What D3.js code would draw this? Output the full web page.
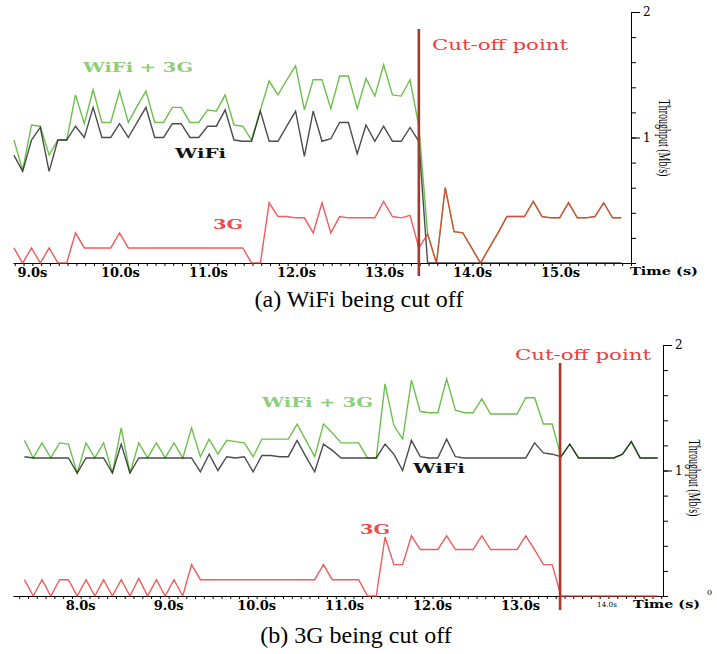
<!DOCTYPE html>
<html>
<head>
<meta charset="utf-8">
<script src="https://cdn.jsdelivr.net/npm/d3@7"></script>
<style>
  body { margin: 0; background: #fff; }
  svg text { font-family: "DejaVu Serif", serif; }
</style>
</head>
<body>
<div id="chart-area"></div>
<script>
// (a) WiFi being cut off -- throughput in Mb/s, one sample every 0.1 s
let wifiA = [0.86, 0.73, 0.98, 1.08, 0.73, 0.98, 0.98, 1.09, 1.00, 1.24,
             1.00, 1.00, 1.11, 1.00, 1.12, 1.24, 1.00, 1.00, 1.11, 1.11,
             1.00, 1.00, 1.09, 1.09, 1.22, 0.98, 0.97, 0.97, 1.21, 0.97,
             0.97, 1.09, 1.21, 0.85, 1.21, 0.97, 0.99, 1.12, 1.12, 0.87,
             1.10, 0.97, 1.09, 0.97, 0.97, 1.08, 0.97, 0, 0, 0,
             0, 0, 0, 0, 0, 0, 0, 0, 0, 0,
             0, 0, 0, 0, 0, 0, 0, 0, 0, 0]
let cellA = [0.12, 0, 0.12, 0, 0.12, 0, 0, 0.24, 0.12, 0.12,
             0.12, 0.12, 0.24, 0.12, 0.12, 0.12, 0.12, 0.12, 0.12, 0.12,
             0.12, 0.12, 0.12, 0.12, 0.12, 0.12, 0.12, 0, 0, 0.48,
             0.37, 0.37, 0.36, 0.36, 0.24, 0.48, 0.24, 0.37, 0.36, 0.36,
             0.36, 0.36, 0.49, 0.37, 0.36, 0.38, 0.12, 0.23, 0, 0.60,
             0.25, 0.24, 0.12, 0, 0.12, 0.24, 0.37, 0.37, 0.37, 0.49,
             0.37, 0.36, 0.36, 0.48, 0.36, 0.36, 0.37, 0.48, 0.36, 0.36]
let bothA = [0.98, 0.74, 1.10, 1.09, 0.86, 0.98, 0.98, 1.34, 1.11, 1.38,
             1.12, 1.12, 1.37, 1.12, 1.25, 1.37, 1.12, 1.12, 1.24, 1.24,
             1.12, 1.12, 1.22, 1.21, 1.34, 1.10, 1.09, 0.98, 1.22, 1.45,
             1.34, 1.46, 1.57, 1.22, 1.46, 1.46, 1.23, 1.49, 1.49, 1.23,
             1.47, 1.33, 1.58, 1.34, 1.33, 1.46, 1.09, 0.23, 0, 0.60,
             0.25, 0.24, 0.12, 0, 0.12, 0.24, 0.37, 0.37, 0.37, 0.49,
             0.37, 0.36, 0.36, 0.48, 0.36, 0.36, 0.37, 0.48, 0.36, 0.36]

// (b) 3G being cut off
let wifiB = [1.11, 1.10, 1.10, 1.10, 1.10, 1.10, 0.98, 1.10, 1.10, 1.10,
             0.98, 1.21, 0.98, 1.10, 1.10, 1.10, 1.10, 1.10, 1.10, 1.10,
             0.99, 1.13, 1.00, 1.11, 1.10, 1.11, 0.99, 1.12, 1.12, 1.11,
             1.11, 1.24, 1.11, 0.99, 1.21, 1.16, 1.10, 1.10, 1.10, 1.10,
             1.10, 1.21, 1.13, 1.00, 1.24, 1.11, 1.10, 1.10, 1.25, 1.11,
             1.10, 1.10, 1.10, 1.10, 1.10, 1.10, 1.10, 1.10, 1.22, 1.14,
             1.13, 1.11, 1.21, 1.10, 1.10, 1.10, 1.10, 1.10, 1.13, 1.23,
             1.10, 1.10, 1.10]
let cellB = [0.13, 0, 0.13, 0, 0.13, 0.13, 0, 0.13, 0, 0.13,
             0, 0.13, 0, 0.14, 0, 0.13, 0, 0.13, 0, 0.25,
             0.13, 0.13, 0.13, 0.13, 0.13, 0.13, 0.13, 0.13, 0.13, 0.13,
             0.13, 0.13, 0.13, 0.13, 0.25, 0.13, 0.13, 0.13, 0.13, 0,
             0, 0.47, 0.25, 0.25, 0.48, 0.37, 0.37, 0.37, 0.48, 0.37,
             0.37, 0.37, 0.48, 0.37, 0.37, 0.37, 0.37, 0.48, 0.37, 0.25,
             0.25, 0, 0, 0, 0, 0, 0, 0, 0, 0,
             0, 0, 0]
let bothB = [1.24, 1.10, 1.22, 1.10, 1.22, 1.21, 0.98, 1.22, 1.10, 1.22,
             0.98, 1.34, 0.98, 1.22, 1.10, 1.22, 1.10, 1.22, 1.10, 1.34,
             1.11, 1.25, 1.13, 1.24, 1.23, 1.22, 1.11, 1.25, 1.25, 1.25,
             1.25, 1.37, 1.24, 1.11, 1.37, 1.30, 1.22, 1.22, 1.22, 1.10,
             1.10, 1.69, 1.36, 1.25, 1.72, 1.47, 1.46, 1.46, 1.73, 1.48,
             1.46, 1.46, 1.57, 1.45, 1.45, 1.45, 1.45, 1.58, 1.58, 1.37,
             1.37, 1.11, 1.21, 1.10, 1.10, 1.10, 1.10, 1.10, 1.13, 1.23,
             1.10, 1.10, 1.10]

// sampling and annotations
let startA = 8.79, startB = 7.36, sampleStep = 0.1
let cutA = 13.39, cutB = 13.45
let timeLabelsA = [9, 10, 11, 12, 13, 14, 15]
let timeLabelsB = [8, 9, 10, 11, 12, 13]
let yLabels = [1, 2]
let yMinor = [0, 0.2, 0.4, 0.6, 0.8, 1, 1.2, 1.4, 1.6, 1.8, 2]

let svg = d3.select("#chart-area").append("svg")
  .attr("width", 717)
  .attr("height", 654)

// text helper: the figure is stretched sideways, textLength mimics that
function addText(str, x, y, o) {
  let t = svg.append("text")
    .attr("x", x)
    .attr("y", y)
    .attr("font-size", o.size + "px")
    .attr("font-weight", o.bold ? "bold" : "normal")
    .attr("fill", o.fill || "#000")
    .text(str)
  if (o.width) t.attr("textLength", o.width).attr("lengthAdjust", "spacingAndGlyphs")
  if (o.anchor) t.attr("text-anchor", o.anchor)
  if (o.family) t.style("font-family", o.family)
  return t
}

function drawPanel(p) {
  let x = d3.scaleLinear().domain(p.timeDomain).range([p.left, p.right])
  let y = d3.scaleLinear().domain([0, 2]).range([p.bottom, p.top])
  let times = p.wifi.map((d, i) => p.start + i * sampleStep)

  // x axis with a tick every 0.1 s
  let minor = d3.range(Math.ceil(p.timeDomain[0] * 10), Math.floor(p.timeDomain[1] * 10) + 1)
    .map(d => d / 10)
  svg.append("g")
    .attr("transform", "translate(0," + p.bottom + ")")
    .call(d3.axisBottom(x).tickValues(minor).tickSize(3).tickSizeOuter(0).tickFormat(""))

  p.timeLabels.forEach(t => {
    addText(t.toFixed(1) + "s", x(t), p.bottom + 14, {size: 13, bold: true, anchor: "middle"})
  })

  // y axis on the right
  svg.append("g")
    .attr("transform", "translate(" + p.right + ",0)")
    .call(d3.axisRight(y).tickValues(yMinor).tickSize(5).tickSizeOuter(0).tickFormat(""))
  let major = svg.append("g")
    .attr("transform", "translate(" + p.right + ",0)")
    .call(d3.axisRight(y).tickValues(yLabels).tickSize(9).tickSizeOuter(0).tickFormat(d3.format("d")))
  major.select(".domain").remove()
  major.selectAll("text")
    .attr("font-family", "DejaVu Serif")
    .attr("font-size", "12px")

  // series
  let line = d3.line()
    .x((d, i) => x(times[i]))
    .y(d => y(d))

  svg.append("path").datum(p.both)
    .attr("fill", "none").attr("stroke", "#6cc04c").attr("stroke-width", 1.4)
    .attr("d", line)
  svg.append("path").datum(p.wifi)
    .attr("fill", "none").attr("stroke", "#1a1a1a").attr("stroke-opacity", 0.78).attr("stroke-width", 1.4)
    .attr("d", line)
  svg.append("path").datum(p.cell)
    .attr("fill", "none").attr("stroke", "#ee3333").attr("stroke-opacity", 0.8).attr("stroke-width", 1.4)
    .attr("d", line)

  // cut-off marker
  svg.append("line")
    .attr("x1", x(p.cut)).attr("x2", x(p.cut))
    .attr("y1", p.cutTop).attr("y2", p.cutBottom)
    .attr("stroke", "#a53a2c").attr("stroke-width", 2.6)

  // y axis title, reads downwards
  svg.append("text")
    .attr("transform", "translate(" + p.titleX + "," + p.titleY + ") rotate(90) scale(1,1.7)")
    .attr("text-anchor", "middle")
    .attr("font-size", "10px")
    .style("font-family", "Liberation Serif")
    .text("Throughput (Mb/s)")
}

drawPanel({
  wifi: wifiA, cell: cellA, both: bothA, start: startA, cut: cutA,
  timeDomain: [8.78, 15.80], timeLabels: timeLabelsA,
  left: 13, right: 631, top: 12, bottom: 263,
  cutTop: 29, cutBottom: 276, titleX: 659, titleY: 138
})
drawPanel({
  wifi: wifiB, cell: cellB, both: bothB, start: startB, cut: cutB,
  timeDomain: [7.23, 14.62], timeLabels: timeLabelsB,
  left: 13, right: 663, top: 345, bottom: 596,
  cutTop: 363, cutBottom: 610, titleX: 689, titleY: 478
})

// annotations, panel (a)
addText("Cut-off point", 432, 50, {size: 14, width: 136, fill: "#f03c3c"})
addText("WiFi + 3G", 83, 72, {size: 13, bold: true, width: 110, fill: "#8ccf78"})
addText("WiFi", 175, 158, {size: 12, bold: true, width: 51, fill: "#111"})
addText("3G", 213, 229, {size: 13, bold: true, width: 30, fill: "#f04a4a"})
addText("Time (s)", 630, 275, {size: 11, bold: true, width: 68})

// annotations, panel (b)
addText("Cut-off point", 515, 360, {size: 14, width: 136, fill: "#f03c3c"})
addText("WiFi + 3G", 262, 407, {size: 13, bold: true, width: 111, fill: "#8ccf78"})
addText("WiFi", 413, 473, {size: 12, bold: true, width: 52, fill: "#111"})
addText("3G", 360, 534, {size: 13, bold: true, width: 30, fill: "#f04a4a"})
addText("Time (s)", 633, 608, {size: 11, bold: true, width: 67})
addText("14.0s", 597, 607, {size: 7, width: 20})
addText("0", 707, 595, {size: 8})

// captions
addText("(a) WiFi being cut off", 359, 307, {size: 24, anchor: "middle", family: "Liberation Serif"})
addText("(b) 3G being cut off", 356, 643, {size: 24, anchor: "middle", family: "Liberation Serif"})
</script>
</body>
</html>
